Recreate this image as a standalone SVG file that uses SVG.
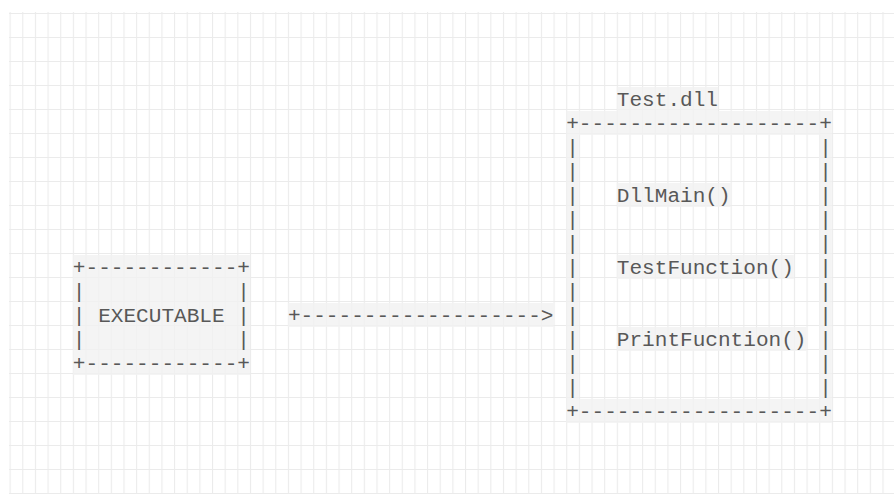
<svg xmlns="http://www.w3.org/2000/svg" width="894" height="496" viewBox="0 0 894 496">
  <defs>
    <!-- one character cell is 12.65 wide, one text row is 24 high -->
    <pattern id="cells" x="9.6" y="13" width="12.65" height="24" patternUnits="userSpaceOnUse">
      <path d="M0.5 0 V24 M0 0.5 H12.65" fill="none" stroke="#ebebeb" stroke-width="1.2"/>
    </pattern>
  </defs>
  <style>
    .mono { font-family: "Liberation Mono", "Courier New", monospace; font-size: 21.08px; fill: #585858; }
    .hl { fill: #f1f1f1; opacity: 0.8; }
  </style>

  <rect width="894" height="496" fill="#ffffff"/>
  <rect id="grid" x="9" y="12" width="885" height="482" fill="url(#cells)"/>

  <!-- EXECUTABLE box -->
  <g id="executable">
    <rect class="hl" x="72.85" y="255" width="177.1" height="120"/>
    <text class="mono" xml:space="preserve" x="72.85" y="274">+------------+</text>
    <text class="mono" xml:space="preserve" x="72.85" y="298">|            |</text>
    <text class="mono" xml:space="preserve" x="72.85" y="322">| EXECUTABLE |</text>
    <text class="mono" xml:space="preserve" x="72.85" y="346">|            |</text>
    <text class="mono" xml:space="preserve" x="72.85" y="370">+------------+</text>
  </g>

  <!-- Test.dll box with its exported functions -->
  <g id="test-dll">
    <rect class="hl" x="616.8" y="87" width="101.2" height="24"/>
    <rect class="hl" x="566.2" y="111" width="265.65" height="24"/>
    <rect class="hl" x="566.2" y="135" width="12.65" height="264"/>
    <rect class="hl" x="819.2" y="135" width="12.65" height="264"/>
    <rect class="hl" x="616.8" y="183" width="113.85" height="24"/>
    <rect class="hl" x="616.8" y="255" width="177.1" height="24"/>
    <rect class="hl" x="616.8" y="327" width="189.75" height="24"/>
    <rect class="hl" x="566.2" y="399" width="265.65" height="24"/>
    <text class="mono" xml:space="preserve" x="616.8" y="106">Test.dll</text>
    <text class="mono" xml:space="preserve" x="566.2" y="130">+-------------------+</text>
    <text class="mono" xml:space="preserve" x="566.2" y="154">|                   |</text>
    <text class="mono" xml:space="preserve" x="566.2" y="178">|                   |</text>
    <text class="mono" xml:space="preserve" x="566.2" y="202">|   DllMain()       |</text>
    <text class="mono" xml:space="preserve" x="566.2" y="226">|                   |</text>
    <text class="mono" xml:space="preserve" x="566.2" y="250">|                   |</text>
    <text class="mono" xml:space="preserve" x="566.2" y="274">|   TestFunction()  |</text>
    <text class="mono" xml:space="preserve" x="566.2" y="298">|                   |</text>
    <text class="mono" xml:space="preserve" x="566.2" y="322">|                   |</text>
    <text class="mono" xml:space="preserve" x="566.2" y="346">|   PrintFucntion() |</text>
    <text class="mono" xml:space="preserve" x="566.2" y="370">|                   |</text>
    <text class="mono" xml:space="preserve" x="566.2" y="394">|                   |</text>
    <text class="mono" xml:space="preserve" x="566.2" y="418">+-------------------+</text>
  </g>

  <!-- connector: EXECUTABLE loads Test.dll -->
  <g id="connectors">
    <rect class="hl" x="287.9" y="303" width="265.65" height="24"/>
    <text class="mono" xml:space="preserve" x="287.9" y="322">+-------------------&gt;</text>
  </g>
</svg>
